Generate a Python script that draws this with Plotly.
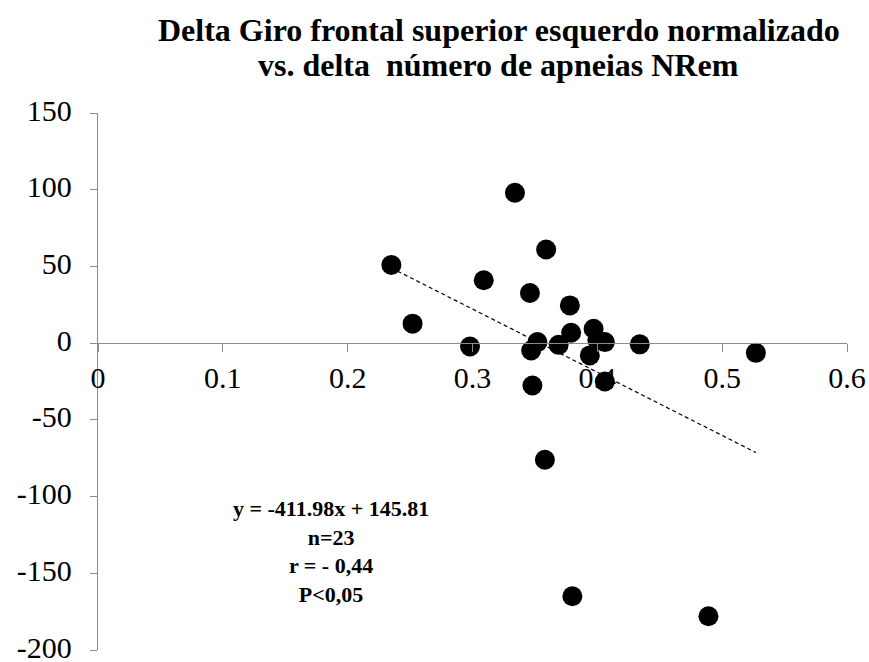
import plotly.graph_objects as go

# Data
x_vals = [0.235, 0.252, 0.298, 0.334, 0.359, 0.309, 0.346, 0.378, 0.379, 0.397,
          0.352, 0.347, 0.369, 0.406, 0.394, 0.434, 0.527, 0.348, 0.406, 0.358,
          0.380, 0.489, 0.400]
y_vals = [51, 12.7, -2.2, 98, 61, 41, 32.7, 24.6, 6.8, 9.4,
          0.7, -4.8, -1.1, 0.7, -8.0, -0.8, -6.3, -27.6, -25, -76,
          -165, -178, 2]

slope = -411.98
intercept = 145.81

x_ticks = [0, 0.1, 0.2, 0.3, 0.4, 0.5, 0.6]
x_tick_text = ["0", "0.1", "0.2", "0.3", "0.4", "0.5", "0.6"]
y_ticks = [-200, -150, -100, -50, 0, 50, 100, 150]
y_tick_text = ["-200", "-150", "-100", "-50", "0", "50", "100", "150"]

title_lines = ["Delta Giro frontal superior esquerdo normalizado",
               "vs. delta  número de apneias NRem"]
stats_lines = ["y = -411.98x + 145.81", "n=23", "r = - 0,44", "P<0,05"]

x_range = [0, 0.6]
y_range = [-200, 150]

fx = [min(x_vals), max(x_vals)]
fy = [slope * v + intercept for v in fx]

FONT = "Liberation Serif, Times New Roman, serif"
AXC = "#8c8c8c"
W, H = 869, 662
L, R, T, B = 98, 22, 113, 12

fig = go.Figure()
fig.add_trace(go.Scatter(x=x_vals, y=y_vals, mode="markers",
                         marker=dict(size=20, color="black", line=dict(width=0)),
                         showlegend=False, cliponaxis=False))
fig.add_trace(go.Scatter(x=fx, y=fy, mode="lines",
                         line=dict(color="black", width=1.2, dash="4px,3px"),
                         showlegend=False))

fig.update_layout(
    width=W, height=H,
    margin=dict(l=L, r=R, t=T, b=B, autoexpand=False),
    paper_bgcolor="white", plot_bgcolor="white",
    font=dict(family=FONT, color="black"),
    xaxis=dict(range=x_range, tickvals=x_ticks, ticktext=x_tick_text,
               showgrid=False, zeroline=False, showline=True, linecolor=AXC,
               linewidth=1.3, ticks="outside", ticklen=8, tickcolor=AXC,
               anchor="free", position=(0 - y_range[0]) / (y_range[1] - y_range[0]),
               ticklabeloverflow="allow", automargin=False,
               tickfont=dict(size=30, family=FONT, color="black")),
    yaxis=dict(range=y_range, tickvals=y_ticks, ticktext=y_tick_text,
               showgrid=False, zeroline=False, showline=True, linecolor=AXC,
               linewidth=1.3, ticks="outside", ticklen=7, tickcolor=AXC,
               ticklabelstandoff=12, ticklabelshift=-3,
               ticklabeloverflow="allow", automargin=False,
               tickfont=dict(size=30, family=FONT, color="black")),
)

# Title lines (two separate annotations for exact line spacing)
for line, ypx in zip(title_lines, [30, 64.5]):
    fig.add_annotation(text="<b>" + line + "</b>",
                       xref="paper", yref="paper",
                       x=(498.5 - L) / (W - L - R), y=1 + (T - ypx) / (H - T - B),
                       xanchor="center", yanchor="middle", showarrow=False,
                       font=dict(size=32, family=FONT, color="black"))

fig.add_annotation(text="<b>" + "<br>".join(stats_lines) + "</b>",
                   xref="paper", yref="paper",
                   x=(331 - L) / (W - L - R), y=1 - (494 - T) / (H - T - B),
                   xanchor="center", yanchor="top", showarrow=False,
                   align="center", font=dict(size=22, family=FONT, color="black"))

fig.write_html("out.html")
